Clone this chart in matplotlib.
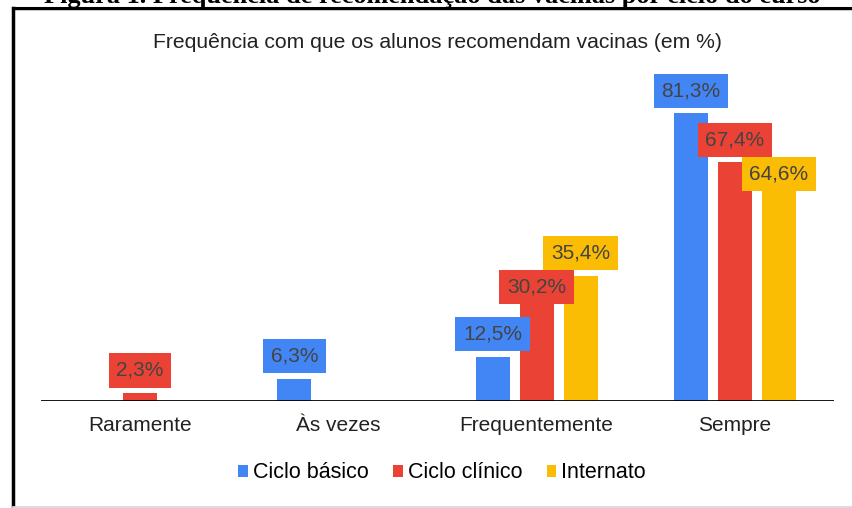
import numpy as np
import matplotlib
matplotlib.use("Agg")
import matplotlib.pyplot as plt
from matplotlib.lines import Line2D

plt.rcParams['font.family'] = ['Liberation Sans', 'DejaVu Sans']

categories = ["Raramente", "Às vezes", "Frequentemente", "Sempre"]
series_names = ["Ciclo básico", "Ciclo clínico", "Internato"]
ciclo_basico = [0, 6.3, 12.5, 81.3]
ciclo_clinico = [2.3, 0, 30.2, 67.4]
internato = [0, 0, 35.4, 64.6]
colors = ["#4285F4", "#EA4335", "#FBBC04"]

W, H = 852, 508
fig = plt.figure(figsize=(W / 100, H / 100), dpi=100)
ax = fig.add_axes([0.048, 0.2106, 0.931, 0.641])

x = np.arange(len(categories))
width = 0.172
step = 0.222
series = [ciclo_basico, ciclo_clinico, internato]

for i, (vals, name) in enumerate(zip(series, series_names)):
    ax.bar(x + (i - 1) * step, vals, width, color=colors[i], label=name, zorder=2)

ax.axhline(0, color="black", lw=2, zorder=3)
ax.set_xlim(-0.5, 3.5)
ax.set_ylim(0, 92)

# value labels: boxed, placed above the bar, pushed below a taller
# neighbour's label when the two would collide (like google charts does)
label_h, label_w, gap = 33, 75, 6
for g in range(len(categories)):
    placed = []
    items = sorted([(series[i][g], i) for i in range(3) if series[i][g] > 0], reverse=True)
    for v, i in items:
        xp = x[g] + (i - 1) * step
        px, py = ax.transData.transform((xp, v))
        bottom = py + gap
        top = bottom + label_h
        for (l, r_, b, t) in placed:
            if px - label_w / 2 < r_ and px + label_w / 2 > l and bottom < t and top > b:
                top = b - 1
                bottom = top - label_h
        placed.append((px - label_w / 2, px + label_w / 2, bottom, top))
        ax.annotate(f"{v:.1f}%".replace(".", ","), (xp, v),
                    xytext=(0, (bottom + top) / 2 - py), textcoords="offset pixels",
                    ha="center", va="center", fontsize=15, color="#444444", zorder=5,
                    bbox=dict(boxstyle="square,pad=0.37", fc=colors[i], ec="none"))

ax.set_xticks(x)
ax.set_xticklabels(categories, fontsize=15, color="#222222")
ax.tick_params(axis="x", length=0, pad=11)
ax.set_yticks([])
for s in ax.spines.values():
    s.set_visible(False)

fig.legend(loc="center", bbox_to_anchor=(442 / W, 1 - 473 / H), ncol=3, frameon=False,
           fontsize=15.5, handlelength=0.45, handleheight=0.45, handletextpad=0.22,
           columnspacing=1.15)

title = fig.text(437.5 / W, 1 - 43 / H, "Frequência com que os alunos recomendam vacinas (em %)",
                 ha="center", va="center", fontsize=13, color="#222222")

# caption partially cut off at top of the image
caption = fig.text(432 / W, 1 - 3.5 / H, "Figura 1. Frequência de recomendação das vacinas por ciclo do curso",
                   ha="center", va="baseline", fontsize=16, fontweight="bold",
                   family="Liberation Serif", color="black")

# scale title / caption font to the widths
r = fig.canvas.get_renderer()
for t, target in [(title, 569), (caption, 779)]:
    w = t.get_window_extent(r).width
    t.set_fontsize(t.get_fontsize() * target / w)

# frame lines
fig.add_artist(Line2D([13 / W, 1], [1 - 10 / H, 1 - 10 / H], color="#d0d0d0", lw=1.5))
fig.add_artist(Line2D([13 / W, 1], [1 - 8 / H, 1 - 8 / H], color="black", lw=2.2))
fig.add_artist(Line2D([13 / W, 13 / W], [0, 1 - 8 / H], color="black", lw=2.5))
fig.add_artist(Line2D([13 / W, 1], [1 - 506.5 / H, 1 - 506.5 / H], color="#d9d9d9", lw=2))

fig.savefig("out.png", dpi=100)
